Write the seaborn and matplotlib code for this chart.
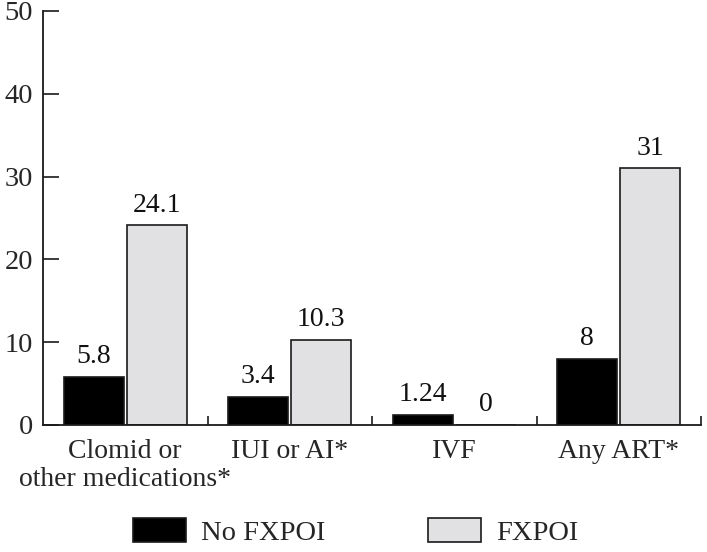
import matplotlib
matplotlib.use("Agg")
import matplotlib.pyplot as plt
from matplotlib.ticker import FixedLocator
import seaborn as sns
import pandas as pd

categories = ["Clomid or\nother medications*", "IUI or AI*", "IVF", "Any ART*"]
no_fxpoi = [5.8, 3.4, 1.24, 8]
fxpoi = [24.1, 10.3, 0, 31]
series_names = ["No FXPOI", "FXPOI"]
y_ticks = [0, 10, 20, 30, 40, 50]

df = pd.DataFrame({
    "category": categories * 2,
    "value": no_fxpoi + fxpoi,
    "group": [series_names[0]] * len(categories) + [series_names[1]] * len(categories),
})

sns.set_style("white")
plt.rcParams["font.family"] = ["Liberation Serif", "DejaVu Serif"]

fig = plt.figure(figsize=(7.07, 5.52), dpi=100)
ax = fig.add_axes([43 / 707, 1 - 425 / 552, (701 - 43) / 707, (425 - 11) / 552])

sns.barplot(data=df, x="category", y="value", hue="group",
            hue_order=series_names, order=categories,
            palette=["#000000", "#e1e1e3"], width=0.768, gap=0.05,
            edgecolor="#1a1a1a", linewidth=1.2, saturation=1, ax=ax)

handles, labels = ax.get_legend_handles_labels()
if ax.get_legend() is not None:
    ax.get_legend().remove()

for cont, vals in zip(ax.containers, [no_fxpoi, fxpoi]):
    for bar, v in zip(cont, vals):
        ax.annotate(f"{v:g}", (bar.get_x() + bar.get_width() / 2, bar.get_height()),
                    xytext=(0, 5.5), textcoords="offset points",
                    ha="center", va="bottom", fontsize=20, color="#111111")

ax.set_xlim(-0.5, 3.5)
ax.set_ylim(0, 50)
ax.set_yticks(y_ticks)
ax.set_xlabel("")
ax.set_ylabel("")
sns.despine(ax=ax, top=True, right=True)
for s in ["left", "bottom"]:
    ax.spines[s].set_color("#1a1a1a")
    ax.spines[s].set_linewidth(1.3)

ax.tick_params(axis="y", direction="in", length=11.5, width=1.2, color="#1a1a1a",
               labelsize=20.5, pad=7, left=True)
ax.tick_params(axis="x", which="major", length=0, labelsize=20, pad=10)
ax.xaxis.set_minor_locator(FixedLocator([0.5, 1.5, 2.5, 3.5]))
ax.tick_params(axis="x", which="minor", direction="in", length=6.5, width=1.2,
               color="#1a1a1a", bottom=True)
for lbl in ax.get_xticklabels():
    lbl.set_linespacing(1.15)

fig.legend(handles, labels, loc="center left", bbox_to_anchor=(133 / 707, 1 - 532 / 552),
           ncol=2, frameon=False, fontsize=20.5, handlelength=1.85, handleheight=0.9,
           handletextpad=0.55, columnspacing=3.6, borderpad=0, borderaxespad=0)

fig.savefig("out.png", dpi=100)
